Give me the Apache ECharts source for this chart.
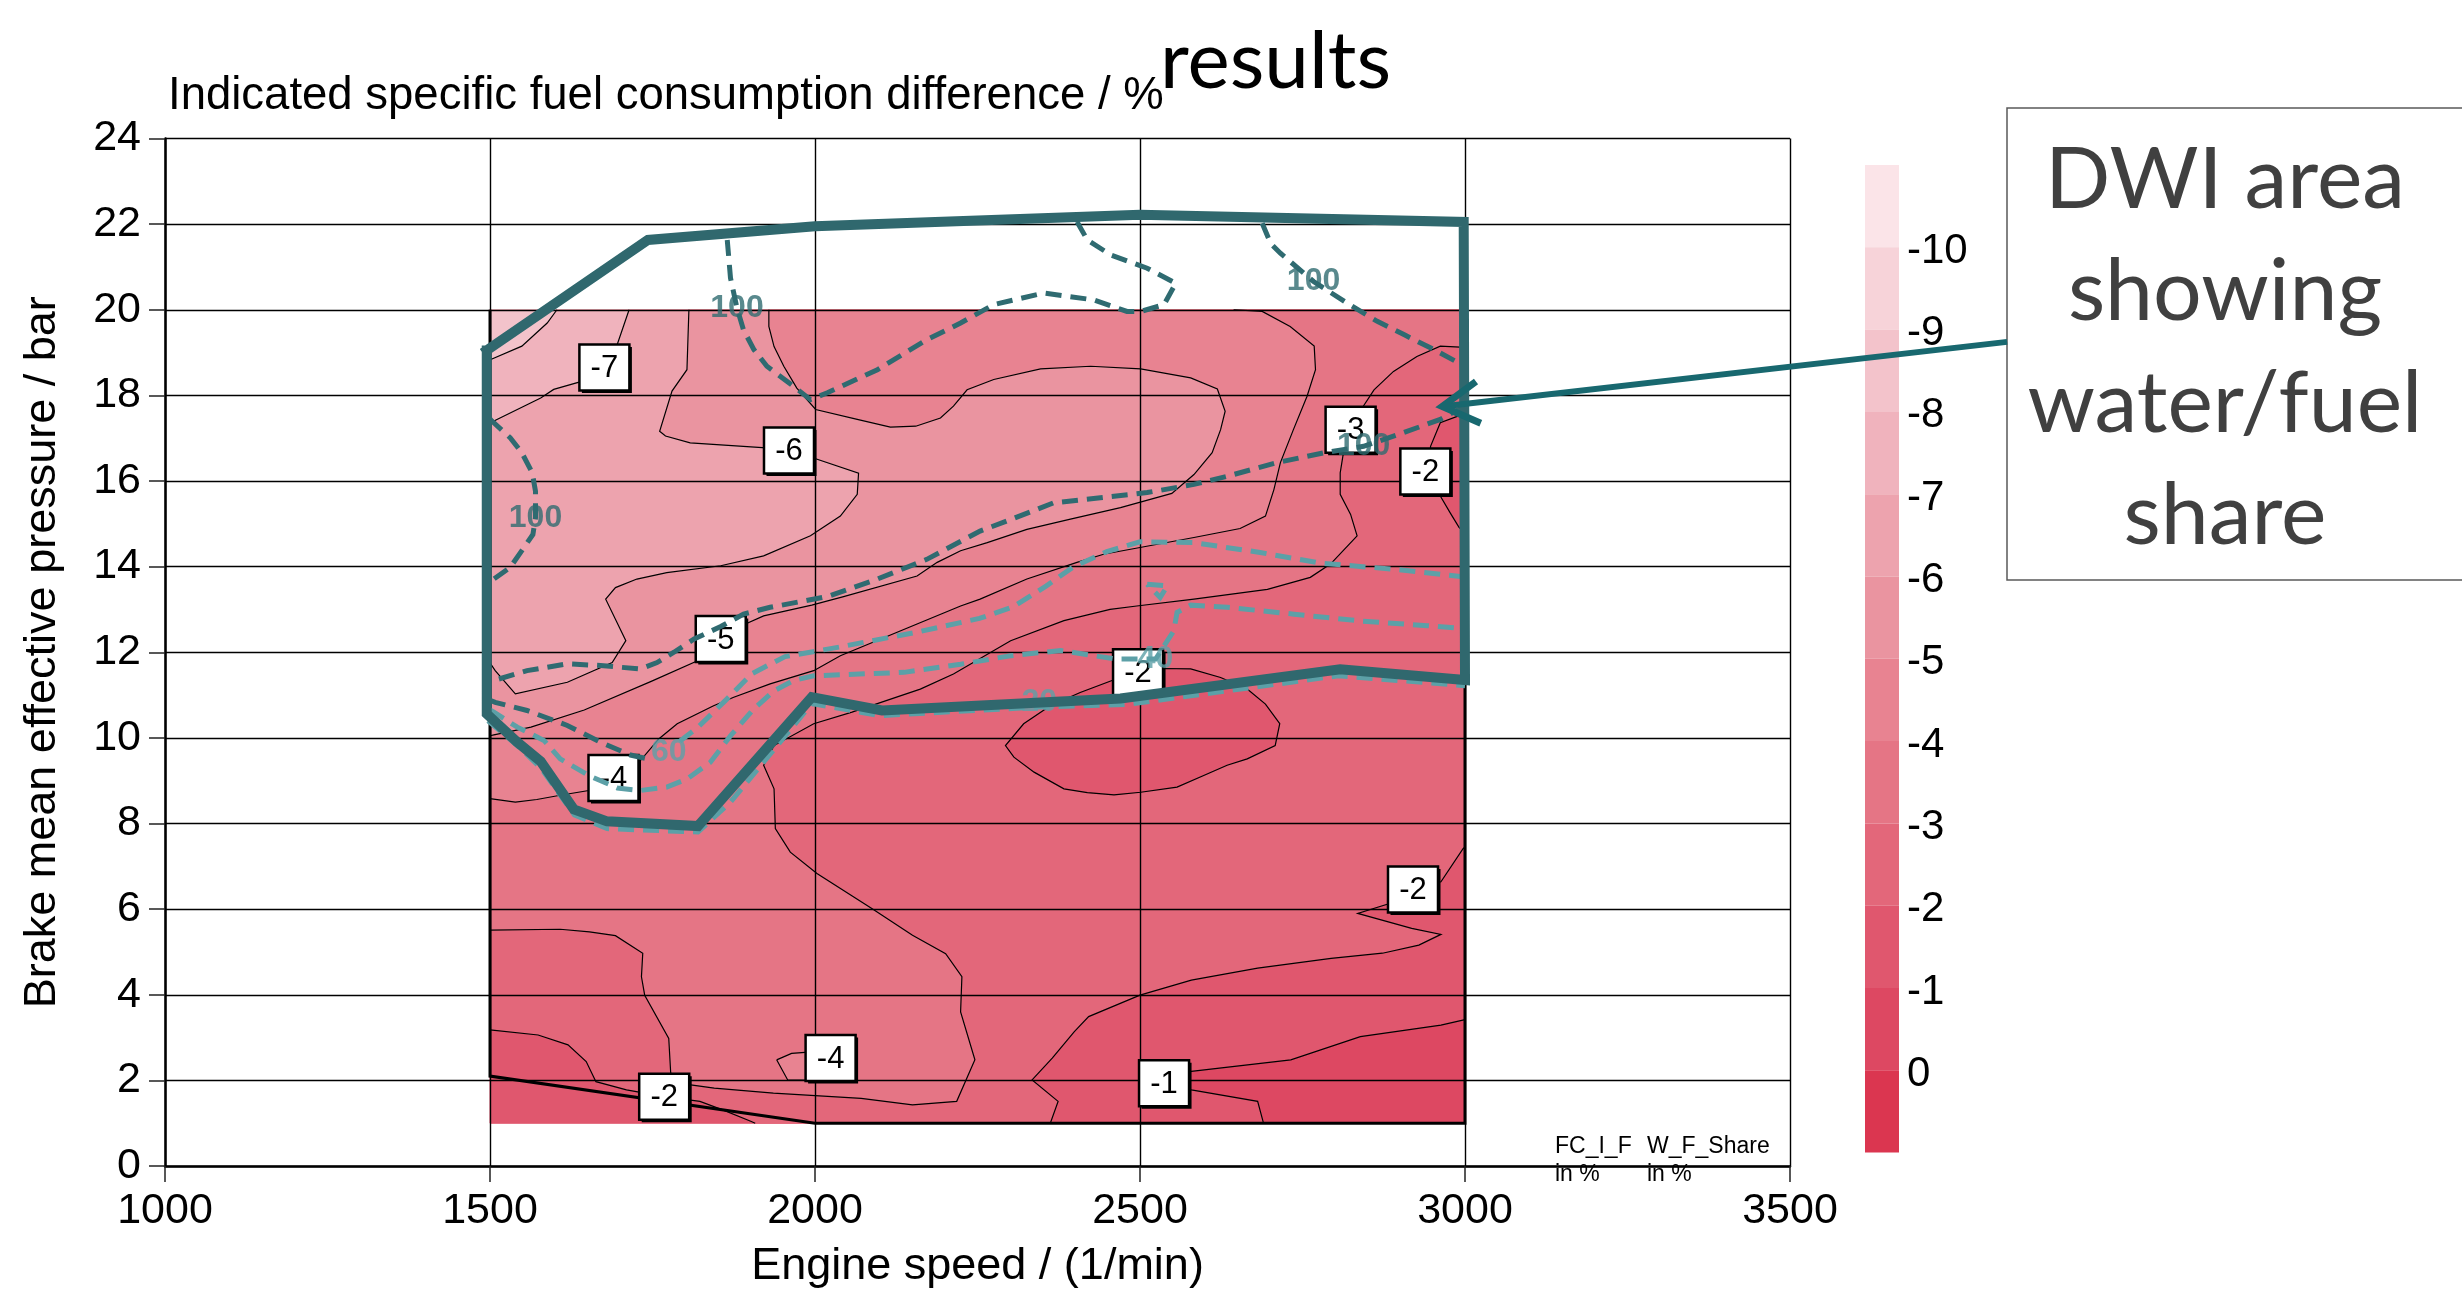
<!DOCTYPE html>
<html><head><meta charset="utf-8">
<script src="https://cdn.jsdelivr.net/npm/echarts@6/dist/echarts.min.js"></script>
<style>html,body{margin:0;padding:0;background:#fff}#main{width:2462px;height:1294px}</style>
</head><body><div id="main"></div>
<script>
// ---------- axes ----------
const speedRange = [1000, 3500, 500];
const bmepRange = [0, 24, 2];

// ---------- colour bands (ISFC difference, %) ----------
const bandEdges = [-10, -9, -8, -7, -6, -5, -4, -3, -2, -1, 0];
const bandColors = ['#FBE4E8','#F7D3D9','#F3C3CB','#F0B3BD','#EDA3AE','#EA94A0','#E88391','#E57585','#E3677A','#E0576E','#DD4862','#DB3650'];
const legendLabels = ['-10','-9','-8','-7','-6','-5','-4','-3','-2','-1','0'];

// ---------- map domain ----------
const mapDomain = [[1500,1],[3000,1],[3000,20],[1500,20]];
const operatingBoundary = [[1500,20],[1500,2.1],[2000,1],[3000,1],[3000,20]];

// ---------- ISFC contour lines [rpm, bar] ----------
const contourM1 = [[2690,1],[2681,1.51],[2579,1.78],[2540,2.0],[2579,2.21],[2732,2.48],[2839,3.02],[2963,3.29],[3000,3.42]];
const contourM2a = [[1500,3.18],[1574,3.06],[1620,2.83],[1648,2.44],[1663,1.97],[1710,1.78],[1768,1.62],[1823,1.51],[1860,1.3],[1902,1.04],[1908,1]];
const contourM2b = [[2362,1],[2374,1.51],[2334,2.01],[2365,2.52],[2399,3.14],[2421,3.49],[2500,3.99],[2579,4.34],[2681,4.62],[2794,4.85],[2873,4.97],[2929,5.16],[2963,5.41],[2918,5.55],[2835,5.9],[2884,6.13],[2920,6.46],[2963,6.64],[2997,7.41],[3000,7.45]];
const contourM2c = [[3000,14.8],[2991,14.91],[2977,15.26],[2962,15.65],[2945,16.2],[2947,16.81],[2962,17.36],[2988,17.51],[3000,17.55]];
const contourM2oval = [[2457,11.34],[2408,11.06],[2362,10.75],[2321,10.33],[2293,9.82],[2306,9.55],[2337,9.2],[2383,8.81],[2419,8.72],[2460,8.67],[2501,8.73],[2557,8.85],[2598,9.12],[2634,9.36],[2665,9.51],[2708,9.82],[2715,10.33],[2693,10.79],[2665,11.14],[2624,11.41],[2578,11.61],[2534,11.62],[2497,11.55],[2457,11.34]];
const contourM3 = [[1500,5.51],[1608,5.53],[1653,5.47],[1693,5.38],[1735,4.97],[1733,4.42],[1738,3.99],[1775,2.98],[1778,2.17],[1806,1.9],[1845,1.82],[1936,1.7],[2071,1.58],[2150,1.43],[2218,1.51],[2246,2.48],[2224,3.6],[2226,4.42],[2201,4.96],[2150,5.39],[2088,6.01],[2003,6.83],[1962,7.33],[1939,7.88],[1937,8.81],[1921,9.36],[1937,9.82],[1998,10.33],[2057,10.6],[2162,11.14],[2213,11.49],[2301,12.27],[2383,12.74],[2454,13.0],[2495,13.08],[2583,13.24],[2696,13.47],[2762,13.75],[2793,14.06],[2834,14.72],[2824,15.22],[2808,15.69],[2808,16.19],[2813,16.66],[2824,17.2],[2842,17.71],[2860,18.13],[2890,18.56],[2926,18.91],[2962,19.15],[3000,19.12]];
const contourM4 = [[1500,8.58],[1539,8.5],[1572,8.56],[1608,8.66],[1652,8.77],[1690,9.06],[1729,9.43],[1760,9.98],[1788,10.33],[1844,10.75],[1875,10.95],[1931,11.26],[1998,11.57],[2039,11.92],[2157,12.66],[2224,13.08],[2254,13.24],[2326,13.71],[2403,14.1],[2444,14.29],[2583,14.68],[2654,14.89],[2693,15.18],[2706,15.8],[2716,16.43],[2736,17.2],[2757,17.98],[2770,18.6],[2768,19.15],[2731,19.61],[2688,19.96],[2644,20]];
const contourM4island = [[1941,2.48],[1964,2.63],[1990,2.66],[2030,2.7],[2055,2.5],[2050,2.1],[2000,2.0],[1958,2.01],[1941,2.48]];
const contourM5 = [[1500,10.05],[1506,10.07],[1563,10.25],[1645,10.65],[1748,11.32],[1815,11.77],[1855,12.3],[1893,12.66],[1921,12.85],[1995,13.1],[2044,13.3],[2157,13.78],[2188,14.1],[2224,14.37],[2265,14.56],[2326,14.87],[2393,15.11],[2470,15.38],[2549,15.71],[2583,16.15],[2611,16.66],[2624,17.2],[2631,17.63],[2619,18.15],[2578,18.41],[2501,18.62],[2424,18.68],[2347,18.62],[2275,18.37],[2234,18.13],[2213,17.75],[2193,17.47],[2155,17.28],[2116,17.26],[2065,17.44],[2001,17.67],[1972,18.17],[1952,18.68],[1937,19.14],[1929,19.61],[1929,20]];
const contourM6 = [[1500,11.75],[1508,11.57],[1539,11.03],[1619,11.3],[1688,11.76],[1709,12.27],[1678,13.24],[1693,13.51],[1726,13.71],[1772,13.86],[1855,14.02],[1921,14.25],[1993,14.72],[2039,15.18],[2065,15.69],[2067,16.18],[2001,16.52],[1960,16.71],[1919,16.78],[1808,16.89],[1770,17.05],[1761,17.16],[1780,18.1],[1803,18.6],[1806,20]];
const contourM7 = [[1500,17.35],[1506,17.4],[1542,17.67],[1578,17.94],[1598,18.14],[1637,18.31],[1676,18.65],[1696,19.2],[1714,20]];
const contourM8 = [[1500,18.83],[1503,18.85],[1549,19.15],[1588,19.69],[1603,20]];

// contour value labels [rpm, bar, text]
const contourLabels = [[1676,18.65,'-7'],[1960,16.71,'-6'],[1855,12.31,'-5'],[1690,9.06,'-4'],[2497,11.53,'-2'],[2824,17.2,'-3'],[2939,16.22,'-2'],[2920,6.46,'-2'],[2024,2.52,'-4'],[1768,1.62,'-2'],[2537,1.93,'-1']];

// ---------- water/fuel share lines ----------
const share100a = [[1500,17.45],[1503,17.4],[1531,17.01],[1549,16.66],[1565,16.19],[1570,15.76],[1570,15.14],[1566,14.75],[1552,14.44],[1531,13.98],[1506,13.71],[1500,13.65]];
const share100b = [[1865,21.63],[1870,20.74],[1880,20.04],[1890,19.53],[1906,19.07],[1926,18.68],[1967,18.21],[1993,17.9],[2019,18.06],[2096,18.6],[2172,19.3],[2224,19.69],[2275,20.12],[2352,20.39],[2429,20.23],[2480,19.96],[2501,19.96],[2537,20.12],[2555,20.62],[2511,20.97],[2455,21.28],[2419,21.63],[2403,22.06]];
const share100c = [[2688,22.02],[2701,21.55],[2716,21.32],[2767,20.66],[2819,20.15],[2865,19.73],[2906,19.42],[2952,19.07],[2990,18.76],[3000,18.68]];
const share100d = [[3000,17.72],[2990,17.67],[2962,17.44],[2900,17.1],[2844,16.81],[2783,16.66],[2711,16.43],[2634,16.11],[2583,15.92],[2511,15.73],[2439,15.61],[2367,15.49],[2301,15.1],[2254,14.83],[2172,14.17],[2096,13.71],[2019,13.3],[1931,13.05],[1890,12.89],[1855,12.6],[1814,12.31],[1783,12.0],[1757,11.76],[1731,11.61],[1670,11.69],[1619,11.73],[1557,11.57],[1506,11.34],[1500,11.3]];
const share60left = [[1500,10.88],[1508,10.83],[1557,10.64],[1619,10.29],[1670,9.9],[1716,9.6],[1745,9.5]];
const share60right = [[3000,13.76],[2890,13.94],[2778,14.08],[2685,14.33],[2583,14.56],[2500,14.58],[2449,14.35],[2397,13.99],[2356,13.55],[2305,13.06],[2253,12.79],[2160,12.48],[2037,12.12],[1954,11.9],[1903,11.5],[1862,10.87],[1820,10.25],[1790,9.9]];
const share40 = [[1500,10.65],[1506,10.6],[1542,10.25],[1583,9.94],[1608,9.51],[1652,9.12],[1696,8.83],[1731,8.77],[1772,8.85],[1803,9.04],[1839,9.43],[1870,10.05],[1906,10.68],[1937,11.1],[1967,11.34],[1998,11.45],[2137,11.53],[2224,11.72],[2301,11.92],[2378,12.04],[2429,11.92],[2465,11.84],[2524,11.84],[2552,12.5],[2557,12.93],[2578,13.1],[2634,13.05],[2737,12.89],[2839,12.73],[2942,12.62],[2993,12.56],[3000,12.55]];
const share40loop = [[2511,13.59],[2542,13.55],[2531,13.28],[2511,13.59]];
const share20 = [[1497,10.4],[1545,9.78],[1578,9.3],[1630,8.2],[1680,7.88],[1820,7.8],[1870,8.5],[1930,9.6],[1995,10.8],[2100,10.52],[2344,10.72],[2480,10.78],[2805,11.45],[3000,11.22]];
const shareLabels = [[1570,15.14,'100'],[1880,20.04,'100'],[2767,20.66,'100'],[2844,16.81,'100'],[1775,9.67,'60'],[2524,11.84,'40'],[2345,10.83,'20']];

// DWI area outline
const dwiArea = [[1495,19.05],[1743,21.63],[2000,21.95],[2500,22.22],[2998,22.05],[3000,11.35],[2808,11.6],[2470,10.92],[2103,10.64],[1995,10.95],[1820,7.94],[1680,8.05],[1629,8.33],[1578,9.45],[1542,9.9],[1495,10.56],[1495,19.05]];
const arrowStart = [3834, 19.25];
const arrowTip = [2965, 17.74];

// ---------- build filled regions (value < level), painted light over dark ----------
const TOP_R = [3000,20], TOP_L = [1500,20];
const regions = [
  mapDomain,
  [[1500,1]].concat(contourM1, [TOP_R, TOP_L]),
  contourM2a.concat(contourM2b, contourM2c, [TOP_R, TOP_L]),
  contourM2oval,
  contourM3.concat([TOP_R, TOP_L]),
  contourM4.concat([TOP_L]),
  contourM4island,
  contourM5.concat([TOP_L]),
  contourM6.concat([TOP_L]),
  contourM7.concat([TOP_L]),
  contourM8.concat([TOP_L])
];
const regionValues = [-0.5, -1.5, -2.5, -1.5, -3.5, -4.5, -4.5, -5.5, -6.5, -7.5, -8.5];
const contourLines = [contourM1, contourM2a, contourM2b, contourM2c, contourM2oval, contourM3, contourM4, contourM4island, contourM5, contourM6, contourM7, contourM8];

const pieces = [];
for (let i = 0; i <= bandEdges.length; i++) {
  const p = { color: bandColors[i] };
  if (i > 0) p.gte = bandEdges[i - 1];
  if (i < bandEdges.length) p.lt = bandEdges[i];
  pieces.push(p);
}

const FONT = 'Liberation Sans';
const DARK_TEAL = '#2F6B71';
const LIGHT_TEAL = '#5CA0A7';

const chart = echarts.init(document.getElementById('main'), null, { renderer: 'canvas' });

const axisCommon = {
  type: 'value', z: 2,
  axisLine: { show: true, onZero: false, lineStyle: { color: '#000', width: 2.5 } },
  axisTick: { show: true, length: 16, lineStyle: { color: '#222', width: 1.5 } },
  axisLabel: { fontFamily: FONT, fontSize: 43, color: '#000', margin: 24, formatter: v => String(v) },
  splitLine: { show: true, lineStyle: { color: '#000', width: 1.4 } },
  nameLocation: 'middle',
  nameTextStyle: { fontFamily: FONT, fontSize: 45, color: '#000' }
};

chart.setOption({
  animation: false,
  textStyle: { fontFamily: FONT },
  grid: { left: 165, right: 672, top: 138.5, bottom: 126, containLabel: false },
  xAxis: Object.assign({}, axisCommon, { min: speedRange[0], max: speedRange[1], interval: speedRange[2], name: 'Engine speed / (1/min)', nameGap: 78 }),
  yAxis: Object.assign({}, axisCommon, { min: bmepRange[0], max: bmepRange[1], interval: bmepRange[2], name: 'Brake mean effective pressure / bar', nameGap: 100 }),
  visualMap: {
    type: 'piecewise', seriesIndex: 0, dimension: 0, orient: 'vertical', inverse: true,
    pieces: pieces, left: 1865, top: 165, padding: 0,
    itemWidth: 34, itemHeight: 82.3, itemGap: 0, itemSymbol: 'rect',
    showLabel: false, selectedMode: false, hoverLink: false,
    textStyle: { fontSize: 1, color: 'rgba(0,0,0,0)' }
  },
  series: [
    {
      type: 'custom', coordinateSystem: 'cartesian2d', z: 1, silent: true,
      data: regions.map((r, i) => [regionValues[i], i]),
      renderItem: function (params, api) {
        const pts = regions[api.value(1)].map(p => api.coord(p));
        const c = api.visual('color');
        return { type: 'polygon', shape: { points: pts }, style: { fill: c, stroke: c, lineWidth: 0.6 } };
      }
    },
    {
      type: 'lines', coordinateSystem: 'cartesian2d', polyline: true, z: 3, silent: true,
      lineStyle: { color: '#000', width: 1.2, opacity: 1 },
      data: contourLines.map(c => ({ coords: c }))
    },
    {
      type: 'lines', coordinateSystem: 'cartesian2d', polyline: true, z: 3, silent: true,
      lineStyle: { color: '#000', width: 3, opacity: 1, join: 'miter' },
      data: [{ coords: operatingBoundary }]
    },
    {
      type: 'custom', coordinateSystem: 'cartesian2d', z: 4, silent: true,
      data: contourLabels.map(d => [d[0], d[1]]),
      renderItem: function (params, api) {
        const p = api.coord([api.value(0), api.value(1)]);
        const txt = contourLabels[params.dataIndex][2];
        const w = 50, h = 46;
        return {
          type: 'group', children: [
            { type: 'rect', shape: { x: p[0] - w / 2 + 2.5, y: p[1] - h / 2 + 2.5, width: w, height: h }, style: { fill: '#000' } },
            { type: 'rect', shape: { x: p[0] - w / 2, y: p[1] - h / 2, width: w, height: h }, style: { fill: '#fff', stroke: '#000', lineWidth: 2.5 } },
            { type: 'text', style: { text: txt, x: p[0], y: p[1] + 1, fontFamily: FONT, fontSize: 31, fill: '#000', align: 'center', verticalAlign: 'middle' } }
          ]
        };
      }
    },
    {
      type: 'lines', coordinateSystem: 'cartesian2d', polyline: true, z: 5, silent: true,
      lineStyle: { color: LIGHT_TEAL, width: 5, opacity: 1, type: [16, 9] },
      data: [share60right, share40, share40loop, share20].map(c => ({ coords: c }))
    },
    {
      type: 'lines', coordinateSystem: 'cartesian2d', polyline: true, z: 5, silent: true,
      lineStyle: { color: DARK_TEAL, width: 5, opacity: 1, type: [16, 9] },
      data: [share100a, share100b, share100c, share100d, share60left].map(c => ({ coords: c }))
    },
    {
      type: 'scatter', z: 6, silent: true, symbolSize: 1, itemStyle: { color: 'rgba(0,0,0,0)' },
      data: shareLabels.map(d => ({ value: [d[0], d[1]], name: d[2], label: { color: d[2] === '100' ? DARK_TEAL : LIGHT_TEAL } })),
      label: { show: true, position: 'inside', formatter: '{b}', fontFamily: FONT, fontSize: 32, fontWeight: 'bold' }
    },
    {
      type: 'lines', coordinateSystem: 'cartesian2d', polyline: true, z: 7, silent: true,
      lineStyle: { color: '#30686E', width: 10, opacity: 1, join: 'miter', cap: 'square' },
      data: [{ coords: dwiArea }]
    }
  ]
});

// ---------- annotations ----------
const graphics = [];
graphics.push({ type: 'text', z: 10, style: { text: 'Indicated specific fuel consumption difference / %', x: 168, y: 96, fontFamily: FONT, fontSize: 45.5, fill: '#000', align: 'left', verticalAlign: 'middle' } });
graphics.push({ type: 'text', z: 10, style: { text: 'results', x: 1160, y: 62, fontFamily: 'Lato', fontSize: 80, fill: '#000', align: 'left', verticalAlign: 'middle' } });
// colour bar boundary labels
const barTop = 165, barStep = 82.3;
legendLabels.forEach((t, k) => {
  graphics.push({ type: 'text', z: 10, style: { text: t, x: 1907, y: barTop + (k + 1) * barStep + 4, fontFamily: FONT, fontSize: 42, fill: '#000', align: 'left', verticalAlign: 'middle' } });
});
// variable names under plot
graphics.push({ type: 'text', z: 10, style: { text: 'FC_I_F', x: 1555, y: 1147, fontFamily: FONT, fontSize: 23, fill: '#000', align: 'left', verticalAlign: 'middle' } });
graphics.push({ type: 'text', z: 10, style: { text: 'in %', x: 1555, y: 1175, fontFamily: FONT, fontSize: 23, fill: '#000', align: 'left', verticalAlign: 'middle' } });
graphics.push({ type: 'text', z: 10, style: { text: 'W_F_Share', x: 1647, y: 1147, fontFamily: FONT, fontSize: 23, fill: '#000', align: 'left', verticalAlign: 'middle' } });
graphics.push({ type: 'text', z: 10, style: { text: 'in %', x: 1647, y: 1175, fontFamily: FONT, fontSize: 23, fill: '#000', align: 'left', verticalAlign: 'middle' } });
// DWI text box
graphics.push({ type: 'rect', z: 10, shape: { x: 2007, y: 108, width: 470, height: 472 }, style: { fill: '#fff', stroke: '#595959', lineWidth: 1.5 } });
['DWI area', 'showing', 'water/fuel', 'share'].forEach((t, i) => {
  graphics.push({ type: 'text', z: 11, style: { text: t, x: 2225, y: 180 + i * 112, fontFamily: 'Lato', fontSize: 86, fill: '#404040', align: 'center', verticalAlign: 'middle' } });
});
// arrow
const s = chart.convertToPixel({ gridIndex: 0 }, arrowStart);
const t = chart.convertToPixel({ gridIndex: 0 }, arrowTip);
const dx = t[0] - s[0], dy = t[1] - s[1], len = Math.hypot(dx, dy);
const ux = dx / len, uy = dy / len, L = 42, ang = Math.PI / 6;
function arm(sign) {
  const ca = Math.cos(sign * ang), sa = Math.sin(sign * ang);
  const rx = ux * ca - uy * sa, ry = ux * sa + uy * ca;
  return [t[0] - L * rx, t[1] - L * ry];
}
graphics.push({ type: 'polyline', z: 12, shape: { points: [s, t] }, style: { stroke: '#18686F', lineWidth: 6, fill: null } });
graphics.push({ type: 'polyline', z: 12, shape: { points: [arm(1), t, arm(-1)] }, style: { stroke: '#18686F', lineWidth: 7, fill: null, lineJoin: 'miter' } });

chart.setOption({ graphic: graphics });
</script></body></html>
